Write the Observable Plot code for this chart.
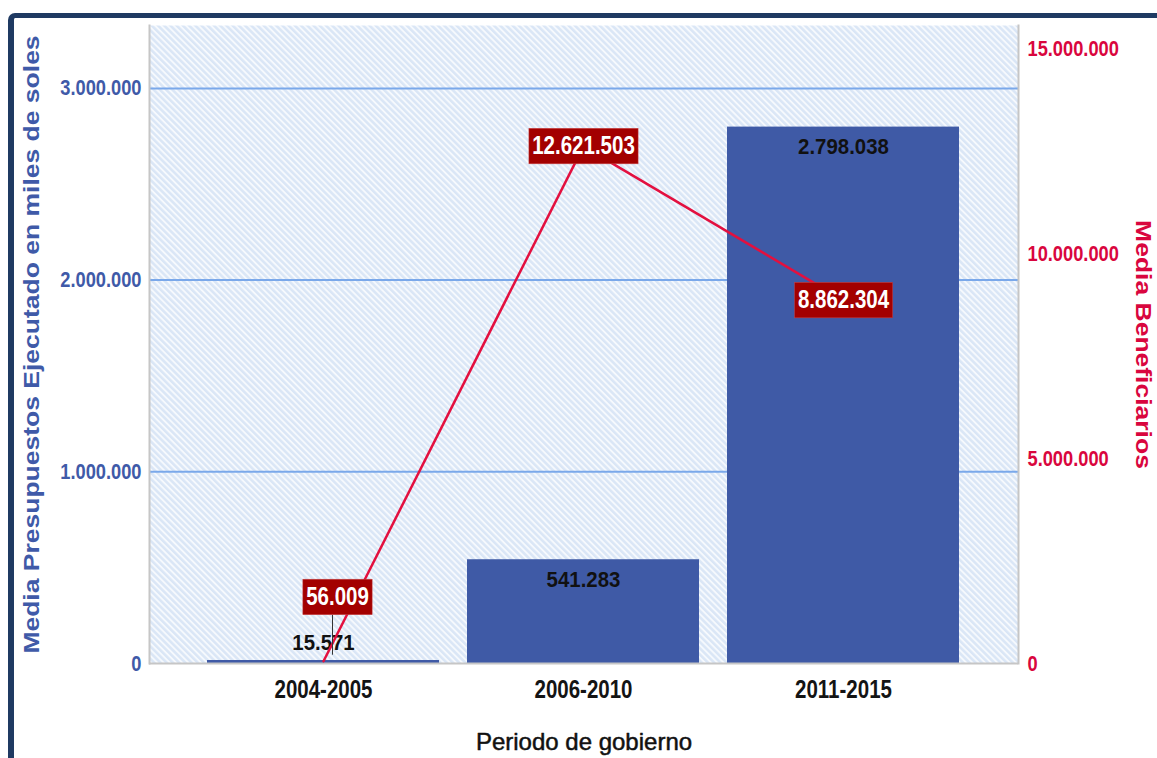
<!DOCTYPE html>
<html>
<head>
<meta charset="utf-8">
<script src="https://cdn.jsdelivr.net/npm/d3@7"></script>
<script src="https://cdn.jsdelivr.net/npm/@observablehq/plot@0.6"></script>
<style>
  html, body { margin: 0; padding: 0; background: #ffffff; }
  #wrap { position: relative; width: 1157px; height: 758px; overflow: hidden; background: #ffffff; }
  #navy { position: absolute; left: 8px; top: 13px; width: 1200px; height: 800px;
          border-top: 5px solid #1f3a62; border-left: 6px solid #1f3a62; border-top-left-radius: 7px; }
  #wrap svg { position: absolute; left: 0; top: 0; }
</style>
</head>
<body>
<div id="wrap"><div id="navy"></div></div>
<script>
// ---- data ----
const periodos = ["2004-2005", "2006-2010", "2011-2015"];
const presupuesto = [15571, 541283, 2798038];        // Media Presupuestos Ejecutado (miles de soles)
const beneficiarios = [56009, 12621503, 8862304];    // Media Beneficiarios
const leftTicks = [0, 1000000, 2000000, 3000000];
const rightTicks = [0, 5000000, 10000000, 15000000];
const leftTitle = "Media Presupuestos Ejecutado en miles de soles";
const rightTitle = "Media Beneficiarios";
const xTitle = "Periodo de gobierno";

const data = periodos.map((p, i) => ({periodo: p, presupuesto: presupuesto[i], beneficiarios: beneficiarios[i]}));

const fmt = d3.formatLocale({decimal: ",", thousands: ".", grouping: [3], currency: ["", ""]}).format(",d");

const font = '"Liberation Sans", Arial, sans-serif';

const W = 1157, H = 758;
const common = {
  width: W, height: H,
  marginLeft: 149, marginRight: 139, marginTop: 25, marginBottom: 95,
  style: {background: "transparent", overflow: "visible", maxWidth: "none"}
};
const xScale = {type: "band", domain: periodos, paddingInner: 0.107, paddingOuter: 0.219, label: null};

const blue = "#3f5aa8";
const crimson = "#d9063e";
const gray = "#c6c6c6";

const plot1 = Plot.plot({
  ...common,
  x: xScale,
  y: {domain: [0, 3328000], label: null},
  marks: [
    Plot.frame({fill: "url(#hatch)", stroke: null}),
    Plot.gridY(leftTicks.filter(t => t > 0), {stroke: "#7aa8ea", strokeWidth: 2, strokeOpacity: 1}),
    Plot.barY(data, {x: "periodo", y: "presupuesto", fill: "#3f5aa6"}),
    Plot.ruleY([0], {stroke: gray, strokeWidth: 2}),
    Plot.frame({anchor: "left", stroke: gray, strokeWidth: 2}),
    Plot.frame({anchor: "right", stroke: gray, strokeWidth: 2}),
    Plot.axisY({ticks: leftTicks, tickSize: 0, tickPadding: 8, tickFormat: fmt, color: blue,
      fontSize: 22, fontWeight: "bold", fontFamily: font, label: null}),
    Plot.axisX({tickSize: 0, tickPadding: 17, color: "#141414", fontSize: 25, fontWeight: "bold",
      fontFamily: font, label: null}),
    // bar value labels
    Plot.text(data.filter(d => d.presupuesto >= 100000), {x: "periodo", y: "presupuesto",
      text: d => fmt(d.presupuesto), dy: 20, fill: "#111", fontSize: 21.5, fontWeight: "bold", fontFamily: font}),
    Plot.text(data.filter(d => d.presupuesto < 100000), {x: "periodo", y: "presupuesto",
      text: d => fmt(d.presupuesto), dy: -17, fill: "#111", fontSize: 21.5, fontWeight: "bold", fontFamily: font}),
    // axis titles
    Plot.text([leftTitle], {frameAnchor: "left", text: d => d, rotate: -90, dx: -119, textAnchor: "middle",
      fill: blue, fontSize: 26.5, fontWeight: "bold", fontFamily: font}),
    Plot.text([xTitle], {frameAnchor: "bottom", text: d => d, dy: 86, textAnchor: "middle",
      fill: "#111", stroke: "#111", strokeWidth: 0.5, fontSize: 24, fontFamily: font})
  ]
});

const plot2 = Plot.plot({
  ...common,
  x: {...xScale, axis: null},
  y: {domain: [0, 15570000], label: null},
  marks: [
    Plot.line(data, {x: "periodo", y: "beneficiarios", stroke: "#e3103f", strokeWidth: 2.5}),
    Plot.ruleX(data.filter(d => d.beneficiarios < 1000000), {x: "periodo", y1: "beneficiarios", y2: "beneficiarios",
      insetTop: -40, dy: -6, dx: 9, stroke: "#333", strokeWidth: 1}),
    Plot.axisY({anchor: "right", ticks: rightTicks, tickSize: 0, tickPadding: 9, tickFormat: fmt, color: crimson,
      fontSize: 22, fontWeight: "bold", fontFamily: font, label: null}),
    Plot.text(data.filter(d => d.beneficiarios >= 1000000), {x: "periodo", y: "beneficiarios",
      text: d => fmt(d.beneficiarios), fill: "white", fontSize: 25, fontWeight: "bold", fontFamily: font}),
    Plot.text(data.filter(d => d.beneficiarios < 1000000), {x: "periodo", y: "beneficiarios",
      text: d => fmt(d.beneficiarios), dx: 14, dy: -64, fill: "white", fontSize: 25, fontWeight: "bold", fontFamily: font}),
    Plot.text([rightTitle], {frameAnchor: "right", text: d => d, rotate: 90, dx: 126, textAnchor: "middle",
      fill: crimson, fontSize: 26.5, fontWeight: "bold", fontFamily: font})
  ]
});

const wrap = document.getElementById("wrap");
wrap.appendChild(plot1);
wrap.appendChild(plot2);

// hatch pattern for the plot background
const defs = d3.select(plot1).insert("defs", ":first-child");
const pat = defs.append("pattern").attr("id", "hatch").attr("patternUnits", "userSpaceOnUse")
  .attr("width", 4.4).attr("height", 4.4).attr("patternTransform", "rotate(45)");
pat.append("rect").attr("width", 4.4).attr("height", 4.4).attr("fill", "#dae6f6");
pat.append("rect").attr("width", 4.4).attr("height", 1.9).attr("fill", "#f6f9fd");

// the source chart's lettering is horizontally condensed: squeeze text around its anchor
function fontSizeOf(el) {
  let n = el;
  while (n && n.getAttribute) {
    const fs = n.getAttribute("font-size");
    if (fs) return parseFloat(fs);
    n = n.parentNode;
  }
  return 16;
}
function toPx(v, fs) {
  if (v == null || v === "") return 0;
  const n = parseFloat(v);
  if (isNaN(n)) return 0;
  return /em$/.test(v.trim()) ? n * fs : n;
}
const squeezeBySize = {22: 0.83, 25: 0.82, 21.5: 0.95};
[plot1, plot2].forEach(svg => {
  svg.querySelectorAll("text").forEach(t => {
    const fs = fontSizeOf(t);
    const tr = t.getAttribute("transform") || "";
    let sx = 1, sy = 1;
    if (/rotate/.test(tr)) { sy = 0.82; }
    else if (squeezeBySize[fs]) { sx = squeezeBySize[fs]; }
    else return;
    const x = toPx(t.getAttribute("x"), fs), y = toPx(t.getAttribute("y"), fs);
    const dx = toPx(t.getAttribute("dx"), fs), dy = toPx(t.getAttribute("dy"), fs);
    ["x", "y", "dx", "dy"].forEach(a => t.removeAttribute(a));
    t.setAttribute("transform", `${tr} translate(${x + dx},${y + dy}) scale(${sx},${sy})`);
  });
});

// dark red boxes behind the line value labels
d3.select(plot2).selectAll('g[fill="white"] text').each(function () {
  const b = this.getBBox();
  const r = document.createElementNS("http://www.w3.org/2000/svg", "rect");
  r.setAttribute("x", b.x - 4);
  r.setAttribute("y", b.y - 3);
  r.setAttribute("width", b.width + 8);
  r.setAttribute("height", b.height + 7);
  r.setAttribute("fill", "#a30000");
  r.setAttribute("stroke", "#c84040");
  r.setAttribute("stroke-width", "0.6");
  const t = this.getAttribute("transform");
  if (t) r.setAttribute("transform", t);
  this.parentNode.insertBefore(r, this);
});
</script>
</body>
</html>
